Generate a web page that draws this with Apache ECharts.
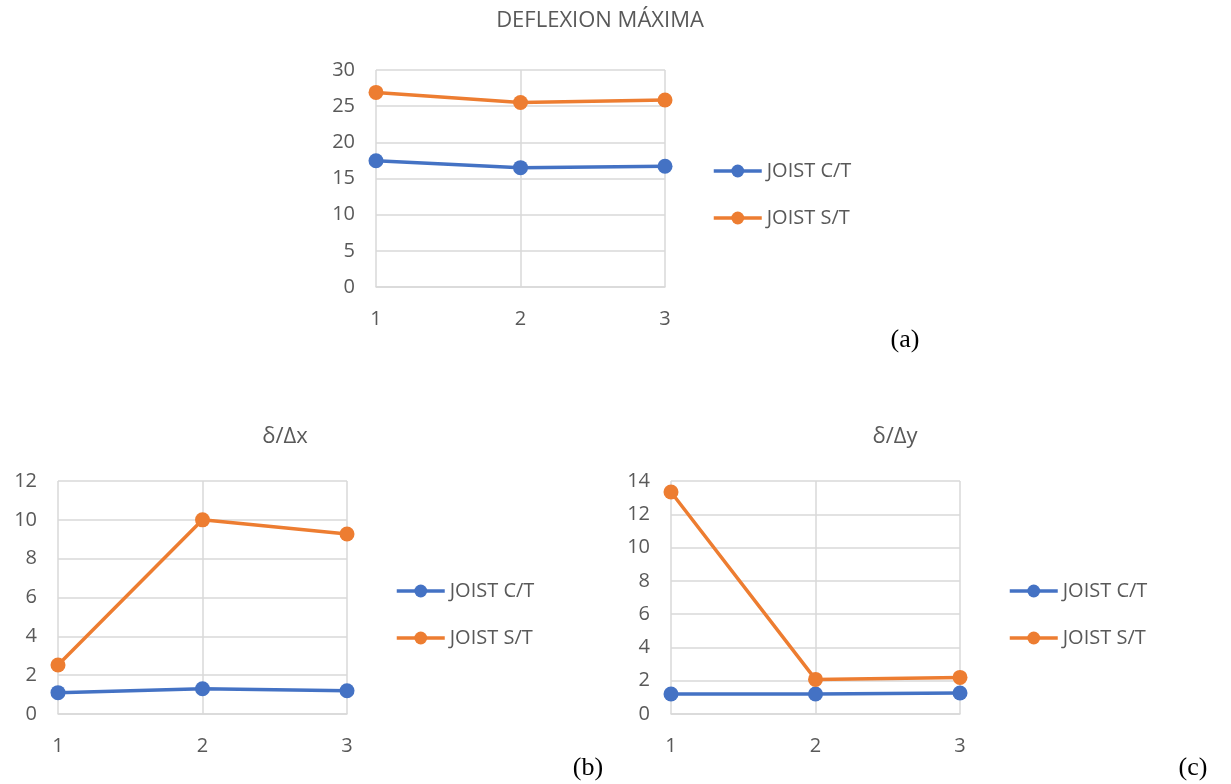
<!DOCTYPE html>
<html><head><meta charset="utf-8">
<script src="https://cdn.jsdelivr.net/npm/echarts@6/dist/echarts.min.js"></script>
<style>html,body{margin:0;padding:0;background:#fff}#c{width:1231px;height:784px}</style>
</head><body><div id="c"></div>
<script>
const categories = ['1', '2', '3'];
const seriesNames = ['JOIST C/T', 'JOIST S/T'];
const titleA = 'DEFLEXION MÁXIMA';
const titleB = 'δ/Δx';
const titleC = 'δ/Δy';
const defCT = [17.45, 16.5, 16.7];
const defST = [26.9, 25.5, 25.85];
const dxCT = [1.1, 1.3, 1.2];
const dxST = [2.52, 10.0, 9.27];
const dyCT = [1.2, 1.2, 1.26];
const dyST = [13.34, 2.08, 2.2];
const yTicksA = { max: 30, interval: 5 };
const yTicksB = { max: 12, interval: 2 };
const yTicksC = { max: 14, interval: 2 };

const FONT = '"Open Sans", sans-serif';
const GREY = '#595959';
const GRID = '#d9d9d9';
const colors = ['#4472C4', '#ED7D31'];

const chart = echarts.init(document.getElementById('c'), null, { renderer: 'canvas' });

function xAx(i) {
  return {
    type: 'category', gridIndex: i, data: categories, boundaryGap: false,
    axisLine: { show: true, lineStyle: { color: GRID, width: 1.5 } },
    axisTick: { show: false },
    axisLabel: { color: GREY, fontSize: 20, fontFamily: FONT, margin: 22 },
    splitLine: { show: true, lineStyle: { color: GRID, width: 1.5 } }
  };
}
function yAx(i, t) {
  return {
    type: 'value', gridIndex: i, min: 0, max: t.max, interval: t.interval,
    axisLine: { show: false }, axisTick: { show: false },
    axisLabel: { color: GREY, fontSize: 20, fontFamily: FONT, margin: 21 },
    splitLine: { show: true, lineStyle: { color: GRID, width: 1.5 } }
  };
}
function ser(name, data, i, c) {
  return {
    name, type: 'line', xAxisIndex: i, yAxisIndex: i, data,
    symbol: 'circle', symbolSize: 15,
    lineStyle: { width: 3.5, color: c }, itemStyle: { color: c },
    emphasis: { disabled: true }, animation: false
  };
}
function leg(left, top) {
  return {
    data: seriesNames, orient: 'vertical', left, top,
    itemWidth: 48, itemHeight: 16, itemGap: 27,
    lineStyle: { width: 3.5 },
    textStyle: { color: GREY, fontSize: 20, fontFamily: FONT, padding: [0, 0, 0, 0] },
    selectedMode: false
  };
}

const option = {
  animation: false,
  color: colors,
  grid: [
    { left: 376, top: 70, width: 289, height: 217 },
    { left: 58, top: 481, width: 289, height: 233 },
    { left: 671, top: 481, width: 289, height: 233 }
  ],
  xAxis: [xAx(0), xAx(1), xAx(2)],
  yAxis: [yAx(0, yTicksA), yAx(1, yTicksB), yAx(2, yTicksC)],
  legend: [leg(707, 156), leg(390, 576), leg(1003, 576)],
  series: [
    ser(seriesNames[0], defCT, 0, colors[0]), ser(seriesNames[1], defST, 0, colors[1]),
    ser(seriesNames[0], dxCT, 1, colors[0]), ser(seriesNames[1], dxST, 1, colors[1]),
    ser(seriesNames[0], dyCT, 2, colors[0]), ser(seriesNames[1], dyST, 2, colors[1])
  ],
  graphic: [
    { type: 'text', x: 600, y: 21, style: { text: titleA, fill: GREY, font: '22px ' + FONT, textAlign: 'center', textVerticalAlign: 'middle' } },
    { type: 'text', x: 285, y: 437, style: { text: titleB, fill: GREY, font: '22px ' + FONT, textAlign: 'center', textVerticalAlign: 'middle' } },
    { type: 'text', x: 895, y: 437, style: { text: titleC, fill: GREY, font: '22px ' + FONT, textAlign: 'center', textVerticalAlign: 'middle' } },
    { type: 'text', x: 905, y: 340, style: { text: '(a)', fill: '#000', font: '26px "Liberation Serif", serif', textAlign: 'center', textVerticalAlign: 'middle' } },
    { type: 'text', x: 588, y: 768, style: { text: '(b)', fill: '#000', font: '26px "Liberation Serif", serif', textAlign: 'center', textVerticalAlign: 'middle' } },
    { type: 'text', x: 1193, y: 768, style: { text: '(c)', fill: '#000', font: '26px "Liberation Serif", serif', textAlign: 'center', textVerticalAlign: 'middle' } }
  ]
};
chart.setOption(option);
</script></body></html>
